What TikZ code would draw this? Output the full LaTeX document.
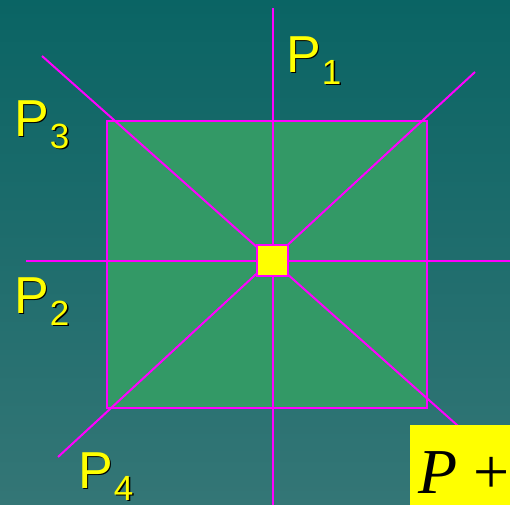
\documentclass[tikz,border=0pt]{standalone}
\usepackage{fontspec}
\setmainfont{Liberation Sans}
\newfontfamily\timesfont{Liberation Serif}
\definecolor{bgtop}{RGB}{10,100,100}
\definecolor{bgbot}{RGB}{52,118,118}
\definecolor{fieldgreen}{RGB}{51,153,102}
\definecolor{raypink}{RGB}{255,0,255}
\definecolor{hotyellow}{RGB}{255,255,0}
\newcommand{\plbl}[1]{\fontsize{52}{52}\selectfont P\hspace{1pt}\raisebox{-12pt}{\fontsize{35}{35}\selectfont #1}}
\begin{document}
\begin{tikzpicture}
			[
				x=1pt, y=-1pt,
				ray/.style={raypink, line width=2pt},
				lbl/.style={anchor=base west, inner sep=0pt}
			]
			\useasboundingbox (0,0) rectangle (510,504);
			\clip (0,0) rectangle (510,504);
			% Background
			\shade[top color=bgtop, bottom color=bgbot] (0,0) rectangle (510,504);
			% Field
			\filldraw[fill=fieldgreen, draw=raypink, line width=2pt] (107,121) rectangle (427,408);
			% Rays through the centre
			\coordinate (c) at (272.5,260.5);
			\coordinate (n) at (272.5,8);
			\coordinate (s) at (272.5,506);
			\coordinate (w) at (26,260.5);
			\coordinate (e) at (512,260.5);
			\coordinate (nw) at (42,56);
			\coordinate (se) at (475,441);
			\coordinate (ne) at (475,72);
			\coordinate (sw) at (58,457);
			\foreach \a/\b in {n/s, w/e, nw/se, ne/sw} {
					\draw[ray] (\a) -- (\b);
				}
			\node[fill=hotyellow, draw=raypink, line width=1.5pt, minimum size=31pt, inner sep=0pt] (src) at (c) {};
			% Labels
			\foreach \name/\x/\y/\d in {p1/286/72/1, p3/14/136/3, p2/14/313/2, p4/78/488/4} {
					\node[lbl, text=black] at (\x+1.5,\y+1.5) {\plbl{\d}};
					\node[lbl, text=hotyellow] (\name) at (\x,\y) {\plbl{\d}};
				}
			% P+
			\fill[hotyellow] (410,425) rectangle (512,506);
			\node[lbl, text=black] (pplus) at (418,493) {\timesfont\fontsize{64}{66}\selectfont\itshape P\upshape\hspace{16pt}+};
		\end{tikzpicture}
\end{document}
